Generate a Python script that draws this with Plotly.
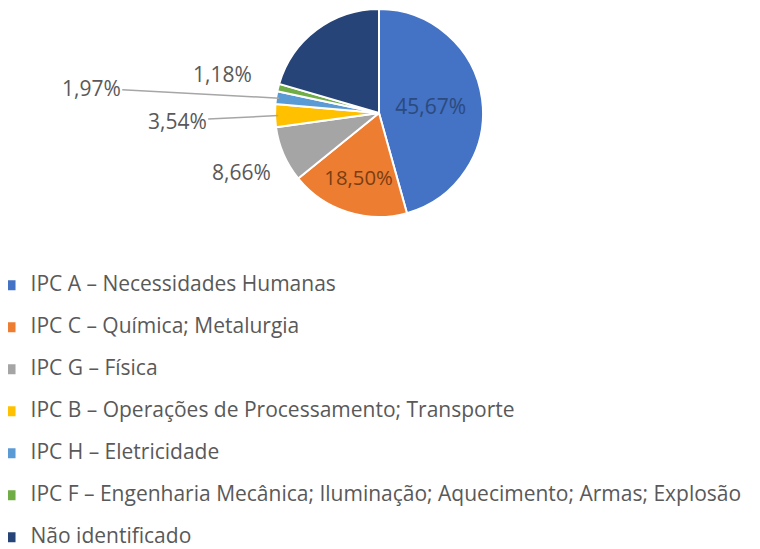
import math
import plotly.graph_objects as go

categories = [
    "IPC A – Necessidades Humanas",
    "IPC C – Química; Metalurgia",
    "IPC G – Física",
    "IPC B – Operações de Processamento; Transporte",
    "IPC H – Eletricidade",
    "IPC F – Engenharia Mecânica; Iluminação; Aquecimento; Armas; Explosão",
    "Não identificado",
]
values = [45.67, 18.50, 8.66, 3.54, 1.97, 1.18, 20.48]
value_labels = ["45,67%", "18,50%", "8,66%", "3,54%", "1,97%", "1,18%", ""]
colors = ["#4472C4", "#ED7D31", "#A5A5A5", "#FFC000", "#5B9BD5", "#70AD47", "#264478"]

W, H = 760, 549
CX, CY, R = 371, 105, 104  # pie center / radius in figure pixels
FONT = "Open Sans"

fig = go.Figure()
fig.add_trace(go.Pie(
    labels=['<span style="font-size:21px">' + c + '</span><br> ' for c in categories],
    values=values,
    sort=False,
    direction="clockwise",
    rotation=0,
    marker=dict(colors=colors, line=dict(color="white", width=2)),
    text=value_labels,
    texttemplate=["%{text}"] * 2 + [""] * 5,
    textposition=["inside", "inside", "none", "none", "none", "none", "none"],
    insidetextorientation="horizontal",
    insidetextfont=dict(family=FONT, size=21, color=["#2B4A7E", "#7A3E12"] + ["#000"] * 5),
    hoverinfo="label+percent",
    domain=dict(x=[(CX - R) / W, (CX + R) / W], y=[1 - (CY + R) / H, 1 - (CY - R) / H]),
    showlegend=True,
))

# outside labels, placed from each slice's mid-angle
total = sum(values)
cum = 0.0
mids = []
for v in values:
    mids.append((cum + v / 2) / total * 2 * math.pi)
    cum += v

def edge(i, f=1.0):
    a = mids[i]
    px = CX + f * R * math.sin(a)
    py = CY - f * R * math.cos(a)
    return px / W, 1 - py / H

label_font = dict(family=FONT, size=21, color="#595959")
# 8,66% (no leader)
x, y = edge(2)
fig.add_annotation(x=x, y=y, xref="paper", yref="paper", text=value_labels[2],
                   showarrow=False, xshift=-42, yshift=-2, font=label_font)
# 3,54% (leader)
x, y = edge(3, 0.97)
fig.add_annotation(x=x, y=y, xref="paper", yref="paper", text=value_labels[3],
                   showarrow=True, arrowhead=0, arrowwidth=1.5, arrowcolor="#A6A6A6",
                   ax=-101, ay=5, font=label_font)
# 1,97% (leader)
x, y = edge(4, 0.97)
fig.add_annotation(x=x, y=y, xref="paper", yref="paper", text=value_labels[4],
                   showarrow=True, arrowhead=0, arrowwidth=1.5, arrowcolor="#A6A6A6",
                   ax=-188, ay=-10, font=label_font)
# 1,18% (no leader)
x, y = edge(5)
fig.add_annotation(x=x, y=y, xref="paper", yref="paper", text=value_labels[5],
                   showarrow=False, xshift=-56, yshift=30, font=label_font)

fig.update_layout(
    width=W, height=H,
    margin=dict(l=0, r=0, t=0, b=0, autoexpand=False),
    paper_bgcolor="white",
    legend=dict(
        x=-0.023, y=1 - 261 / H, xanchor="left", yanchor="top",
        orientation="v", valign="top",
        font=dict(family=FONT, size=15, color="#595959"),
        bgcolor="rgba(0,0,0,0)",
        traceorder="normal",
    ),
)

fig.write_html("out.html")
